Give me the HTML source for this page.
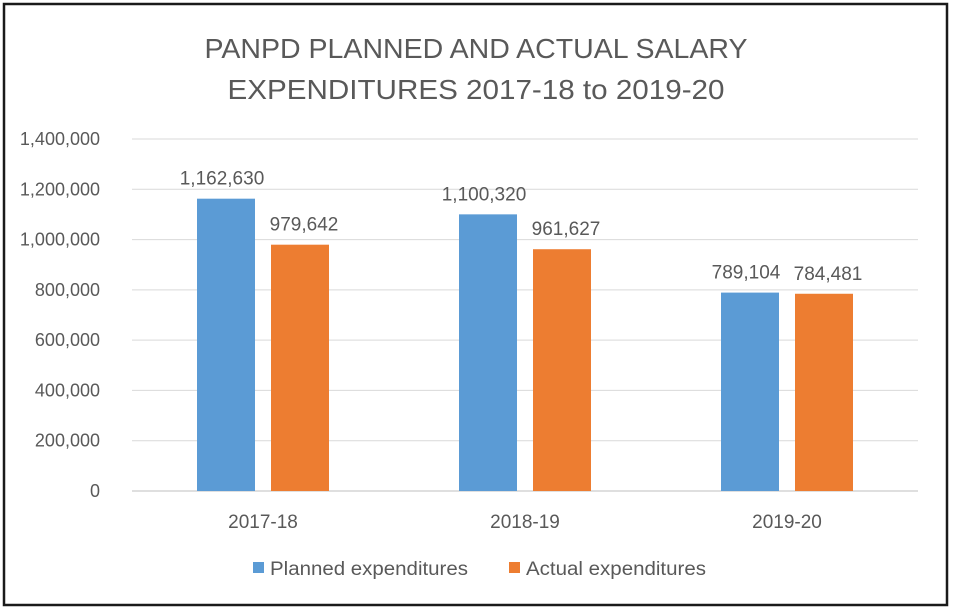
<!DOCTYPE html>
<html><head><meta charset="utf-8"><style>
body{margin:0;background:#fff;width:954px;height:611px;overflow:hidden}
svg text{font-family:"Liberation Sans",sans-serif;fill:#595959}
</style></head><body>
<svg id="c" width="954" height="611">
<rect x="4" y="4" width="943" height="601" fill="#fff" stroke="#1a1a1a" stroke-width="2.5"/>
<text x="476" y="58" text-anchor="middle" font-size="28" textLength="543" lengthAdjust="spacingAndGlyphs">PANPD PLANNED AND ACTUAL SALARY</text>
<text x="476" y="99" text-anchor="middle" font-size="28" textLength="497" lengthAdjust="spacingAndGlyphs">EXPENDITURES 2017-18 to 2019-20</text>
<g id="grid"></g><g id="bars"></g><g id="labels"></g>
<rect x="253" y="562" width="11" height="11" fill="#5b9bd5"/>
<text x="270" y="575" font-size="19" textLength="198" lengthAdjust="spacingAndGlyphs">Planned expenditures</text>
<rect x="509" y="562" width="11" height="11" fill="#ed7d31"/>
<text x="526" y="575" font-size="19" textLength="180" lengthAdjust="spacingAndGlyphs">Actual expenditures</text>
</svg>
<script>
const categories=["2017-18","2018-19","2019-20"];
const planned=[1162630,1100320,789104];
const actual=[979642,961627,784481];
const yTicks=[0,200000,400000,600000,800000,1000000,1200000,1400000];
const NS="http://www.w3.org/2000/svg";
const L=132,R=918,T=139,B=491,YMAX=1400000;
const y=v=>B-(v/YMAX)*(B-T);
const band=(R-L)/categories.length;
const fmt=v=>v.toLocaleString("en-US");
function mk(tag,attrs,parent,txt){const e=document.createElementNS(NS,tag);for(const k in attrs)e.setAttribute(k,attrs[k]);if(txt!==undefined)e.textContent=txt;parent.appendChild(e);return e;}
const g=document.getElementById("grid"),bg=document.getElementById("bars"),lg=document.getElementById("labels");
yTicks.forEach(t=>{
  const ln=mk("line",{x1:L,x2:R,y1:y(t),y2:y(t),stroke:t===0?"#bfbfbf":"#d9d9d9","stroke-width":1},g);
  
  
  const tx=mk("text",{x:100,y:y(t)+6,"text-anchor":"end","font-size":18},g,fmt(t));
  
  
});
categories.forEach((c,i)=>{
  const cx=L+band*(i+0.5);
  const ct=mk("text",{x:cx,y:528,"text-anchor":"middle","font-size":19},lg,c);
  
  
  [[planned[i],"#5b9bd5",cx-66],[actual[i],"#ed7d31",cx+8]].forEach(([v,col,x],j)=>{
    const r=mk("rect",{x:x,y:y(v),width:58,height:B-y(v),fill:col},bg);
    
    
    const t=mk("text",{x:x+29+(j===1?4:-4),y:y(v)-14,"text-anchor":"middle","font-size":19},lg,fmt(v));
    
    
  });
});
</script>
</body></html>
